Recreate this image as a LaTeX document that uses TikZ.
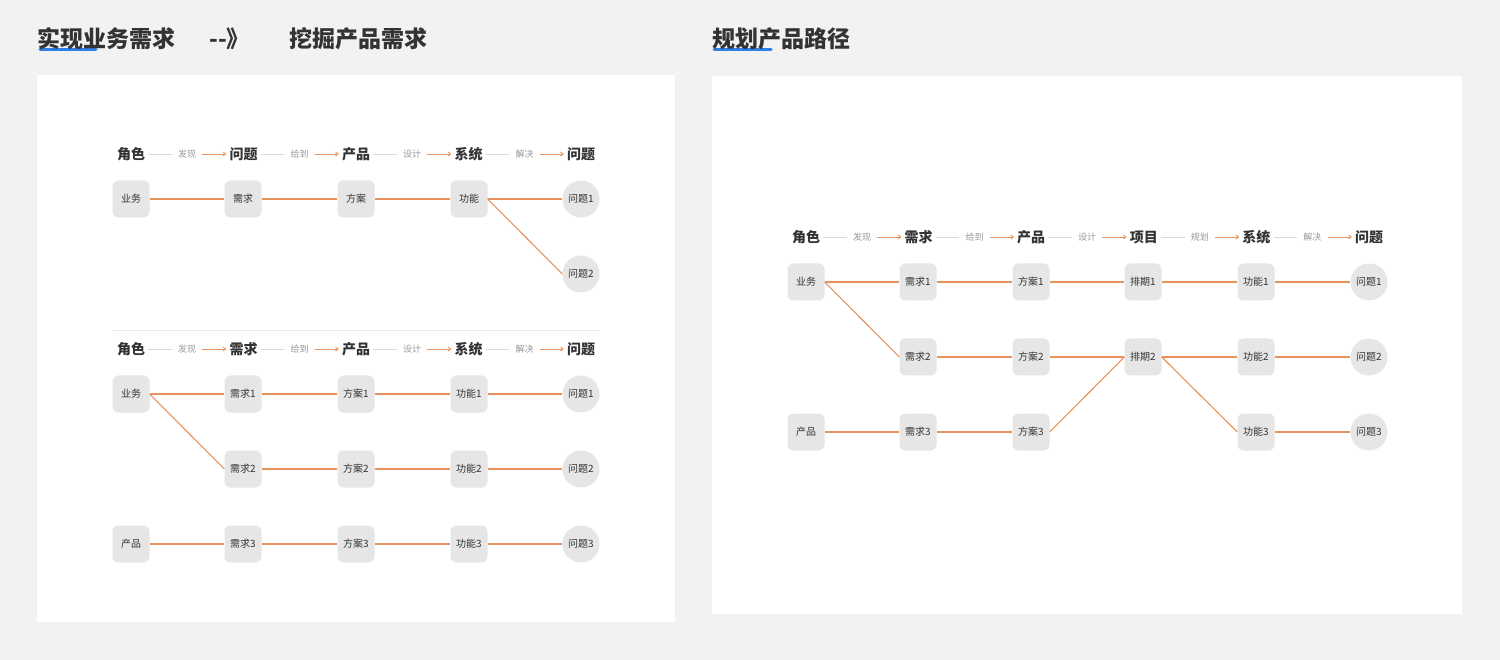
\documentclass[tikz,border=0pt]{standalone}
\usepackage{fontspec}
\setmainfont{Noto Sans CJK SC}
\usetikzlibrary{arrows.meta}
\definecolor{bg}{HTML}{F2F2F2}
\definecolor{boxc}{HTML}{E6E6E6}
\definecolor{edgec}{HTML}{E8925C}
\definecolor{txt}{HTML}{333333}
\definecolor{blu}{HTML}{2F7FE8}
\tikzset{
 x=1pt,y=-1pt,
 rbox/.style={fill=boxc,rounded corners=6pt,minimum size=37pt,inner sep=0pt,font=\fontsize{10}{10}\selectfont,text=txt},
 cbox/.style={fill=boxc,circle,minimum size=37pt,inner sep=0pt,font=\fontsize{10}{10}\selectfont,text=txt},
 hd/.style={font=\bfseries\fontsize{14}{14}\selectfont,text=txt,inner sep=3pt},
 lb/.style={font=\fontsize{9}{9}\selectfont,text=gray!80,inner sep=6pt},
 gl/.style={draw=gray!30,line width=0.8pt},
 ol/.style={draw=edgec,line width=0.9pt,-{Straight Barb[length=2.5pt,width=4pt]}},
 ed/.style={draw=edgec,line width=1.1pt},
 ttl/.style={font=\bfseries\fontsize{23}{23}\selectfont,text=txt,anchor=west,inner sep=0pt},
}
\begin{document}
\begin{tikzpicture}
\fill[bg] (0,0) rectangle (1500,660);
\useasboundingbox (0,0) rectangle (1500,660);
\fill[white] (37,75) rectangle (675,622);
\fill[white] (712,76) rectangle (1462,614);
% titles
\draw[blu,line width=3pt,line cap=round] (40,50) -- (96,50);
\draw[blu,line width=3pt,line cap=round] (714,50) -- (771,50);
\node[ttl] (t1) at (37,39) {实现业务需求\hspace{34pt}-{}-》\hspace{40pt}挖掘产品需求};
\node[ttl] (t2) at (712,39) {规划产品路径};
% header rows
\foreach \p/\y/\names/\labs in {a/154/{角色,问题,产品,系统,问题}/{发现,给到,设计,解决},
                                b/349/{角色,需求,产品,系统,问题}/{发现,给到,设计,解决}}{
  \foreach \n [count=\i] in \names { \node[hd] (\p h\i) at ({131+112.5*(\i-1)},\y) {\n}; }
  \foreach \l [count=\i] in \labs { \pgfmathtruncatemacro\j{\i+1}
    \node[lb] (\p l\i) at ({187+112.5*(\i-1)},\y) {\l};
    \draw[gl] (\p h\i) -- (\p l\i); \draw[ol] (\p l\i) -- (\p h\j); }
}
\foreach \n [count=\i] in {角色,需求,产品,项目,系统,问题} { \node[hd] (ch\i) at ({806+112.6*(\i-1)},237) {\n}; }
\foreach \l [count=\i] in {发现,给到,设计,规划,解决} { \pgfmathtruncatemacro\j{\i+1}
  \node[lb] (cl\i) at ({862+112.6*(\i-1)},237) {\l};
  \draw[gl] (ch\i) -- (cl\i); \draw[ol] (cl\i) -- (ch\j); }
\draw[gray!15,line width=0.8pt] (112,330) -- (600,330);
% section a
\node[rbox] (a1) at (131,199) {业务};
\node[rbox] (a2) at (243,199) {需求};
\node[rbox] (a3) at (356,199) {方案};
\node[rbox] (a4) at (469,199) {功能};
\node[cbox] (a5) at (581,199) {问题1};
\node[cbox] (a6) at (581,274) {问题2};
\draw[ed] (a1) -- (a2) (a2) -- (a3) (a3) -- (a4) (a4) -- (a5);
\draw[ed] (a4.east) -- (a6.west);
% section b
\node[rbox] (b1) at (131,394) {业务};
\node[rbox] (b2) at (243,394) {需求1};
\node[rbox] (b3) at (356,394) {方案1};
\node[rbox] (b4) at (469,394) {功能1};
\node[cbox] (b5) at (581,394) {问题1};
\node[rbox] (b6) at (243,469) {需求2};
\node[rbox] (b7) at (356,469) {方案2};
\node[rbox] (b8) at (469,469) {功能2};
\node[cbox] (b9) at (581,469) {问题2};
\node[rbox] (b10) at (131,544) {产品};
\node[rbox] (b11) at (243,544) {需求3};
\node[rbox] (b12) at (356,544) {方案3};
\node[rbox] (b13) at (469,544) {功能3};
\node[cbox] (b14) at (581,544) {问题3};
\draw[ed] (b1)--(b2) (b2)--(b3) (b3)--(b4) (b4)--(b5);
\draw[ed] (b1.east)--(b6.west);
\draw[ed] (b6)--(b7) (b7)--(b8) (b8)--(b9);
\draw[ed] (b10)--(b11) (b11)--(b12) (b12)--(b13) (b13)--(b14);
% section c
\node[rbox] (c1) at (806,282) {业务};
\node[rbox] (c2) at (918,282) {需求1};
\node[rbox] (c3) at (1031,282) {方案1};
\node[rbox] (c4) at (1143,282) {排期1};
\node[rbox] (c5) at (1256,282) {功能1};
\node[cbox] (c6) at (1369,282) {问题1};
\node[rbox] (c7) at (918,357) {需求2};
\node[rbox] (c8) at (1031,357) {方案2};
\node[rbox] (c9) at (1143,357) {排期2};
\node[rbox] (c10) at (1256,357) {功能2};
\node[cbox] (c11) at (1369,357) {问题2};
\node[rbox] (c12) at (806,432) {产品};
\node[rbox] (c13) at (918,432) {需求3};
\node[rbox] (c14) at (1031,432) {方案3};
\node[rbox] (c15) at (1256,432) {功能3};
\node[cbox] (c16) at (1369,432) {问题3};
\draw[ed] (c1)--(c2) (c2)--(c3) (c3)--(c4) (c4)--(c5) (c5)--(c6);
\draw[ed] (c1.east)--(c7.west);
\draw[ed] (c7)--(c8) (c8)--(c9) (c9)--(c10) (c10)--(c11);
\draw[ed] (c14.east)--(c9.west);
\draw[ed] (c9.east)--(c15.west);
\draw[ed] (c12)--(c13) (c13)--(c14) (c15)--(c16);
\end{tikzpicture}
\end{document}
